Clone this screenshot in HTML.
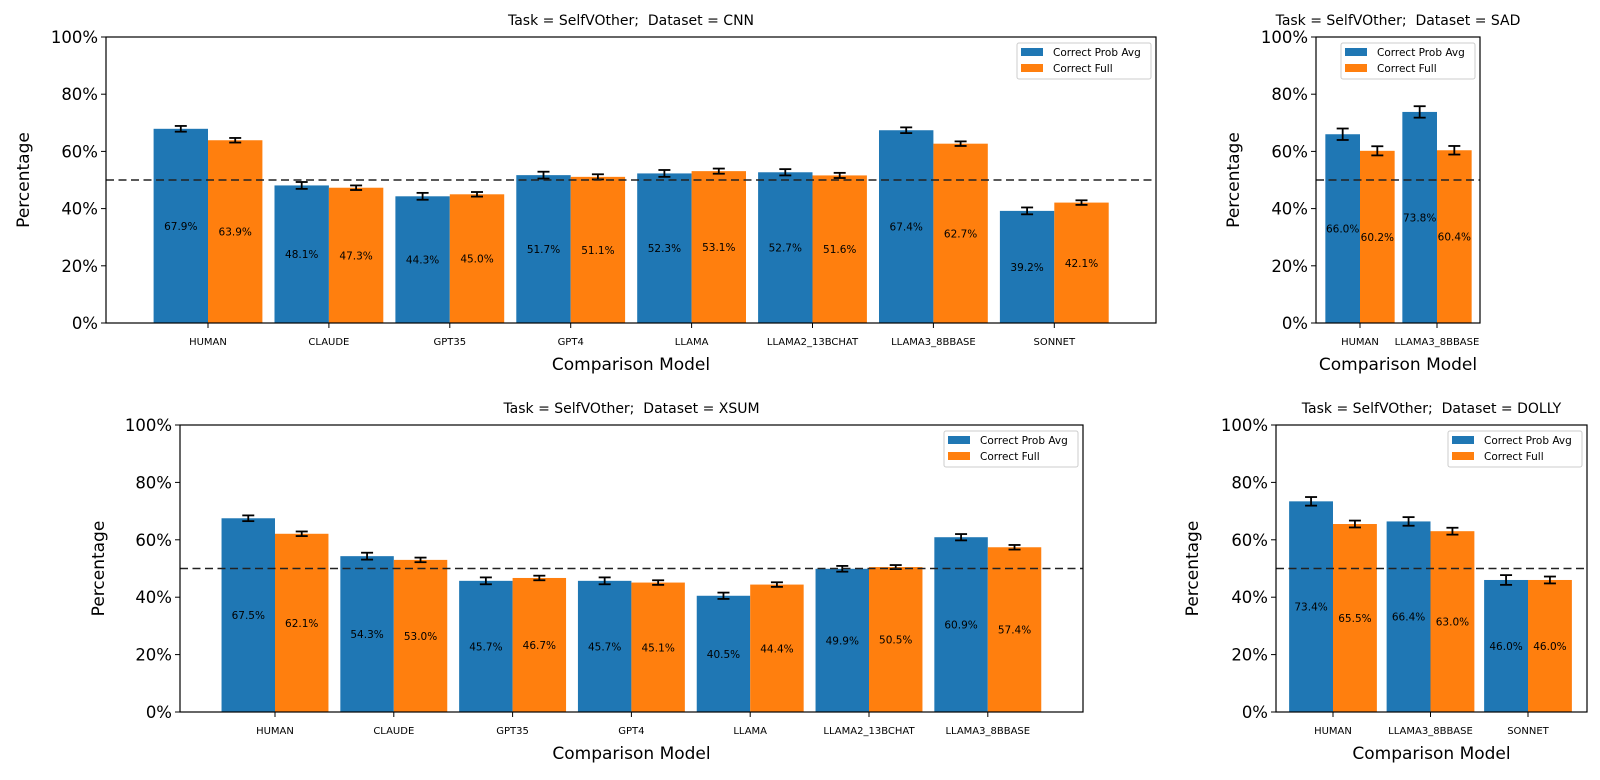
<!DOCTYPE html>
<html><head><meta charset="utf-8"><style>
body{margin:0;background:#fff;}
svg text{font-family:"DejaVu Sans","Liberation Sans",sans-serif;fill:#000;white-space:pre;}
</style></head><body>
<svg id="fig" width="1600" height="775" xmlns="http://www.w3.org/2000/svg" xml:space="preserve"></svg>
<script>
// CNN
const cnnCategories = ["HUMAN","CLAUDE","GPT35","GPT4","LLAMA","LLAMA2_13BCHAT","LLAMA3_8BBASE","SONNET"];
const cnnProbAvg = [67.9,48.1,44.3,51.7,52.3,52.7,67.4,39.2];
const cnnFull = [63.9,47.3,45.0,51.1,53.1,51.6,62.7,42.1];
const cnnProbErr = [1.0,1.2,1.2,1.2,1.2,1.1,1.0,1.2];
const cnnFullErr = [0.8,0.8,0.8,0.9,0.9,0.9,0.8,0.8];
// SAD
const sadCategories = ["HUMAN","LLAMA3_8BBASE"];
const sadProbAvg = [66.0,73.8];
const sadFull = [60.2,60.4];
const sadProbErr = [2.0,2.0];
const sadFullErr = [1.6,1.5];
// XSUM
const xsumCategories = ["HUMAN","CLAUDE","GPT35","GPT4","LLAMA","LLAMA2_13BCHAT","LLAMA3_8BBASE"];
const xsumProbAvg = [67.5,54.3,45.7,45.7,40.5,49.9,60.9];
const xsumFull = [62.1,53.0,46.7,45.1,44.4,50.5,57.4];
const xsumProbErr = [1.0,1.2,1.2,1.2,1.1,1.0,1.1];
const xsumFullErr = [0.8,0.8,0.8,0.8,0.8,0.7,0.8];
// DOLLY
const dollyCategories = ["HUMAN","LLAMA3_8BBASE","SONNET"];
const dollyProbAvg = [73.4,66.4,46.0];
const dollyFull = [65.5,63.0,46.0];
const dollyProbErr = [1.5,1.5,1.7];
const dollyFullErr = [1.2,1.2,1.2];
const yTicks = [0,20,40,60,80,100];
const seriesNames = ["Correct Prob Avg","Correct Full"];

const NS="http://www.w3.org/2000/svg";
const fig=document.getElementById('fig');
function mk(tag,attrs,parent,txt){const e=document.createElementNS(NS,tag);for(const k in attrs)e.setAttribute(k,attrs[k]);if(txt!==undefined)e.textContent=txt;(parent||fig).appendChild(e);return e;}

function panel(key,title,cats,a,b,ea,eb,L,R,T,B,x0,step,ylabX){
  const g=mk('g',{});
  
  
  const y=v=>B-(B-T)*v/100;
  const x=i=>x0+step*i;
  const bw=step*0.45;
  const t=mk('text',{x:(L+R)/2,y:T-12,'text-anchor':'middle','font-size':14},g,title);
  
  
  yTicks.forEach(v=>{
    mk('line',{x1:L-5,x2:L,y1:y(v),y2:y(v),stroke:'#000','stroke-width':1},g);
    const tl=mk('text',{x:L-8,y:y(v)+6,'text-anchor':'end','font-size':16.5},g,v+'%');
    
    
  });
  const yl=mk('text',{x:ylabX,y:(T+B)/2,'text-anchor':'middle','font-size':17,transform:`rotate(-90 ${ylabX} ${(T+B)/2})`,dy:6},g,'Percentage');
  
  
  const xl=mk('text',{x:(L+R)/2,y:B+47,'text-anchor':'middle','font-size':17},g,'Comparison Model');
  
  
  const series=[[a,ea,'#1f77b4',-1],[b,eb,'#ff7f0e',0]];
  cats.forEach((c,i)=>{
    series.forEach((s,si)=>{
      const v=s[0][i],e=s[1][i];
      const bx=x(i)+s[3]*bw;
      const r=mk('rect',{x:bx,y:y(v),width:bw,height:B-y(v),fill:s[2]},g);
      
      
      const cx=bx+bw/2;
      mk('line',{x1:cx,x2:cx,y1:y(v+e),y2:y(v-e),stroke:'#000','stroke-width':1.8},g);
      mk('line',{x1:cx-6,x2:cx+6,y1:y(v+e),y2:y(v+e),stroke:'#000','stroke-width':1.8},g);
      mk('line',{x1:cx-6,x2:cx+6,y1:y(v-e),y2:y(v-e),stroke:'#000','stroke-width':1.8},g);
      const lt=mk('text',{x:cx,y:y(v/2)+4,'text-anchor':'middle','font-size':10.5},g,v.toFixed(1)+'%');
      
      
    });
    mk('line',{x1:x(i),x2:x(i),y1:B,y2:B+5,stroke:'#000','stroke-width':1},g);
    const xt=mk('text',{x:x(i),y:B+22,'text-anchor':'middle','font-size':10},g,c);
    
    
  });
  const dl=mk('line',{x1:L,x2:R,y1:y(50),y2:y(50),stroke:'#222','stroke-width':1.6,'stroke-dasharray':'8,4.5'},g);
  
  
  mk('rect',{x:L,y:T,width:R-L,height:B-T,fill:'none',stroke:'#000','stroke-width':1.2},g);
  const lg=mk('g',{},g);
  
  
  const lx=R-139,ly=T+6;
  mk('rect',{x:lx,y:ly,width:134,height:36,rx:2,fill:'#fff','fill-opacity':0.85,stroke:'#ccc'},lg);
  ['#1f77b4','#ff7f0e'].forEach((col,k)=>{
    mk('rect',{x:lx+4,y:ly+5+k*16,width:22,height:8,fill:col},lg);
    const et=mk('text',{x:lx+36,y:ly+13+k*16,'font-size':10.5},lg,seriesNames[k]);
    
    
  });
}
panel('cnn','Task = SelfVOther;  Dataset = CNN',cnnCategories,cnnProbAvg,cnnFull,cnnProbErr,cnnFullErr,106,1156,37,323,208,120.9,23);
panel('sad','Task = SelfVOther;  Dataset = SAD',sadCategories,sadProbAvg,sadFull,sadProbErr,sadFullErr,1316,1480,37,323,1360,77,1233);
panel('xsum','Task = SelfVOther;  Dataset = XSUM',xsumCategories,xsumProbAvg,xsumFull,xsumProbErr,xsumFullErr,180,1083,425,712,275,118.8,98);
panel('dolly','Task = SelfVOther;  Dataset = DOLLY',dollyCategories,dollyProbAvg,dollyFull,dollyProbErr,dollyFullErr,1276,1587,425,712,1333,97.5,1192);
</script>
</body></html>
